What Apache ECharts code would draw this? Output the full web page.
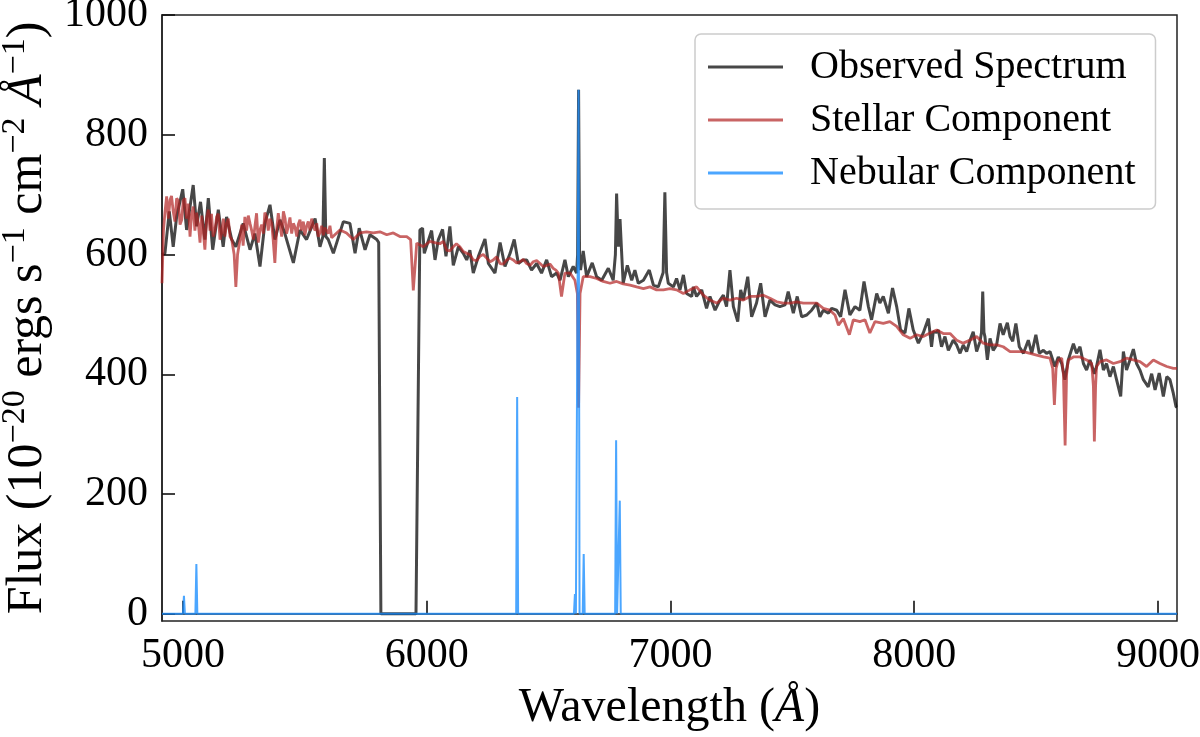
<!DOCTYPE html>
<html><head><meta charset="utf-8">
<script src="https://cdn.jsdelivr.net/npm/echarts@6/dist/echarts.min.js"></script>
<style>html,body{margin:0;padding:0;background:#fff}#c{width:1200px;height:737px}</style>
</head><body><div id="c"></div>
<script>
// Observed spectrum (wavelength in Angstrom, flux in 1e-20 erg/s/cm2/A)
const obsWave = [4914,4926,4944,4960,4974,4999,5015,5042,5056,5072,5090,5104,5122,5145,5165,5179,5200,5217,5247,5275,5295,5316,5336,5357,5377,5398,5418,5453,5480,5507,5542,5562,5574,5580,5586,5596,5617,5658,5685,5706,5723,5747,5767,5795,5803,5812,5956,5972,5983,5990,6020,6034,6047,6065,6079,6095,6109,6130,6150,6164,6177,6191,6212,6239,6253,6280,6301,6321,6342,6359,6376,6396,6410,6430,6451,6471,6492,6512,6533,6547,6567,6581,6601,6615,6619,6623,6627,6631,6642,6656,6679,6697,6718,6745,6765,6774,6779,6786,6793,6800,6806,6823,6841,6854,6868,6889,6913,6930,6950,6970,6977,6984,6991,7012,7025,7039,7053,7066,7087,7094,7107,7128,7148,7162,7183,7203,7217,7230,7244,7258,7276,7288,7299,7317,7333,7353,7370,7388,7408,7429,7449,7470,7483,7504,7520,7538,7559,7579,7600,7613,7627,7648,7661,7682,7698,7716,7736,7757,7777,7794,7812,7825,7846,7859,7873,7894,7911,7928,7944,7962,7978,7996,8017,8037,8058,8071,8078,8092,8099,8112,8126,8140,8160,8174,8188,8201,8215,8229,8242,8256,8270,8276,8281,8286,8290,8300,8311,8324,8338,8352,8365,8382,8393,8404,8417,8431,8448,8468,8482,8499,8513,8530,8543,8557,8577,8591,8605,8618,8632,8653,8666,8680,8694,8707,8721,8739,8748,8762,8776,8789,8803,8817,8830,8847,8858,8871,8885,8899,8912,8926,8940,8960,8974,8988,9005,9022,9036,9049,9063,9074,9078];
const obsFlux = [600,602,672,613,663,709,641,716,647,688,625,694,608,675,613,663,625,613,652,608,635,580,652,683,625,658,635,586,641,625,660,613,630,761,630,625,602,655,652,602,644,608,633,625,620,0,0,641,644,602,640,591,624,642,597,647,582,613,602,591,607,569,597,626,585,569,620,580,602,625,585,591,591,574,585,569,591,563,569,557,591,563,580,569,600,875,600,574,606,563,586,563,557,577,557,600,702,613,659,600,552,582,557,574,552,557,574,549,546,570,704,570,552,546,560,541,566,535,530,546,530,541,510,530,507,524,532,513,574,513,488,541,524,563,496,519,552,496,524,516,513,516,538,502,530,496,499,507,519,496,507,502,510,507,496,541,499,513,507,555,513,491,535,519,530,502,544,513,474,469,510,474,452,469,493,446,471,470,474,446,463,440,457,449,435,449,438,457,471,438,455,470,538,470,463,424,460,440,449,485,466,486,463,455,485,446,435,457,435,466,435,440,435,438,413,429,418,391,424,451,435,446,418,407,424,401,413,441,407,418,396,413,391,363,438,407,424,442,418,407,391,379,401,374,402,363,396,391,368,346,345];

// Stellar component
const stelWave = [4914,4920,4926,4933,4940,4947,4953,4960,4967,4974,4981,4988,4995,5001,5008,5015,5022,5029,5035,5042,5049,5056,5063,5070,5077,5083,5090,5097,5104,5111,5117,5124,5131,5138,5145,5152,5159,5166,5172,5179,5186,5193,5200,5210,5217,5224,5234,5241,5247,5254,5261,5268,5275,5282,5289,5296,5302,5309,5316,5323,5330,5336,5343,5350,5357,5364,5370,5377,5384,5391,5398,5405,5412,5419,5425,5432,5439,5446,5453,5460,5467,5473,5480,5487,5494,5500,5507,5514,5521,5528,5535,5542,5549,5555,5562,5569,5576,5582,5589,5596,5603,5610,5617,5644,5671,5699,5726,5753,5781,5808,5836,5863,5890,5918,5934,5945,5959,5986,6013,6041,6054,6068,6082,6095,6109,6122,6136,6150,6164,6177,6191,6205,6218,6232,6246,6260,6273,6287,6301,6314,6328,6341,6355,6369,6383,6396,6410,6424,6437,6451,6465,6478,6492,6506,6519,6530,6540,6553,6567,6588,6608,6618,6623,6629,6642,6670,6697,6724,6752,6779,6806,6834,6861,6889,6916,6943,6971,6998,7025,7053,7080,7107,7135,7162,7189,7217,7244,7271,7299,7326,7353,7381,7408,7436,7463,7490,7518,7545,7572,7600,7627,7654,7675,7689,7709,7734,7750,7777,7798,7818,7839,7873,7900,7928,7955,7983,8010,8037,8065,8092,8119,8147,8174,8201,8229,8256,8283,8311,8338,8365,8393,8420,8448,8475,8502,8530,8557,8568,8575,8582,8591,8605,8612,8619,8625,8632,8653,8680,8707,8728,8735,8739,8744,8748,8762,8789,8817,8844,8871,8899,8926,8953,8981,9008,9036,9063,9078];
const stelFlux = [552,640,670,697,660,691,698,672,655,694,690,650,658,690,694,660,685,630,665,680,640,670,652,620,665,640,608,660,675,640,668,630,640,663,668,625,636,660,630,652,660,630,625,600,546,600,625,650,615,663,640,665,652,640,625,650,669,620,641,650,635,670,663,640,660,652,625,586,640,669,650,630,672,660,635,647,662,635,652,645,630,650,658,640,655,632,647,655,640,660,647,640,652,630,636,648,632,645,647,635,648,628,630,641,636,625,636,638,636,638,633,636,630,630,625,540,619,613,622,619,618,622,607,606,613,618,613,605,602,600,591,590,597,600,594,588,591,596,585,584,591,594,591,586,588,592,585,582,588,590,585,580,582,584,577,574,569,530,569,569,557,535,344,535,563,563,560,555,552,555,551,549,546,543,546,541,541,543,541,535,541,546,532,524,519,527,524,527,524,530,530,532,527,521,519,519,521,519,519,519,510,507,499,482,493,466,491,488,491,469,488,485,488,480,466,460,466,463,469,474,468,468,457,452,457,463,452,449,449,446,438,438,438,435,432,429,427,410,349,410,424,427,400,281,400,424,429,429,424,418,380,288,380,413,421,424,418,421,427,424,421,413,424,418,413,410,410];

// Nebular component (emission lines)
const nebWave = [4914,5000,5004,5008,5051,5055,5059,6367,6371,6375,6604,6608,6612,6619,6623,6627,6640,6644,6648,6773,6777,6781,6788,6792,6796,9078];
const nebFlux = [0,0,30,0,0,83,0,0,362,0,0,33,0,0,875,0,0,100,0,0,290,0,0,189,0,0];

const xTicks = [5000,6000,7000,8000,9000];
const yTicks = [0,200,400,600,800,1000];

const pair = (w, f) => w.map((x, i) => [x, f[i]]).sort((a, b) => a[0] - b[0]);
const FONT = 'Liberation Serif';
const chart = echarts.init(document.getElementById('c'), null, {renderer: 'canvas'});
const tickStyle = {show: true, inside: true, length: 13, lineStyle: {color: '#111', width: 1.6}};
const labelStyle = {color: '#000', fontFamily: FONT, fontSize: 42, formatter: v => String(v)};
chart.setOption({
  animation: false,
  backgroundColor: '#fff',
  grid: {left: 162, right: 23, top: 15, bottom: 116, show: true, borderColor: '#222', borderWidth: 1.5,
    containLabel: false, outerBoundsMode: 'none'},
  legend: {
    left: 695, top: 34, orient: 'vertical', icon: 'rect', itemWidth: 75, itemHeight: 3, itemGap: 13,
    padding: [13, 20, 16, 13], borderColor: '#ccc', borderWidth: 1.5, borderRadius: 6,
    backgroundColor: 'rgba(255,255,255,0.85)',
    textStyle: {fontFamily: FONT, fontSize: 40, color: '#000', padding: [0, 0, 0, 22]},
    data: ['Observed Spectrum', 'Stellar Component', 'Nebular Component']
  },
  xAxis: {
    type: 'value', min: 4914, max: 9078, minInterval: 1000, maxInterval: 1000,
    axisLine: {show: true, lineStyle: {color: '#222', width: 1.5}},
    splitLine: {show: false},
    axisLabel: Object.assign({}, labelStyle, {margin: 14, customValues: xTicks}),
    axisTick: Object.assign({}, tickStyle, {customValues: xTicks}),
    name: '{b|Wavelength (}{i|Å}{b|)}', nameLocation: 'middle', nameGap: 63,
    nameTextStyle: {fontFamily: FONT, fontSize: 48, color: '#000',
      rich: {b: {fontFamily: FONT, fontSize: 48, color: '#000'}, i: {fontFamily: FONT, fontSize: 48, fontStyle: 'italic', color: '#000'}}}
  },
  yAxis: {
    type: 'value', min: -12, max: 1000, minInterval: 200, maxInterval: 200,
    axisLine: {show: true, lineStyle: {color: '#222', width: 1.5}},
    splitLine: {show: false},
    axisLabel: Object.assign({}, labelStyle, {margin: 14, customValues: yTicks}),
    axisTick: Object.assign({}, tickStyle, {customValues: yTicks}),
    name: '{b|Flux (10}{s|−20}{b| ergs s}{s|−1}{b| cm}{s|−2}{b| }{i|Å}{s|−1}{b|)}',
    nameLocation: 'middle', nameRotate: 90, nameGap: 96,
    nameTextStyle: {fontFamily: FONT, fontSize: 50, color: '#000',
      rich: {
        b: {fontFamily: FONT, fontSize: 50, lineHeight: 55, verticalAlign: 'bottom', color: '#000'},
        i: {fontFamily: FONT, fontSize: 50, lineHeight: 55, verticalAlign: 'bottom', fontStyle: 'italic', color: '#000'},
        s: {fontFamily: FONT, fontSize: 34, lineHeight: 30, verticalAlign: 'top', color: '#000'}
      }}
  },
  series: [
    {name: 'Observed Spectrum', type: 'line', data: pair(obsWave, obsFlux), symbol: 'none', showSymbol: false,
      lineStyle: {color: 'rgba(0,0,0,0.72)', width: 3}, itemStyle: {color: 'rgba(0,0,0,0.72)'}, z: 2},
    {name: 'Stellar Component', type: 'line', data: pair(stelWave, stelFlux), symbol: 'none', showSymbol: false,
      lineStyle: {color: 'rgba(178,34,34,0.7)', width: 2.8}, itemStyle: {color: 'rgba(178,34,34,0.7)'}, z: 3},
    {name: 'Nebular Component', type: 'line', data: pair(nebWave, nebFlux), symbol: 'none', showSymbol: false,
      lineStyle: {color: 'rgba(30,144,255,0.8)', width: 2}, itemStyle: {color: 'rgba(30,144,255,0.8)'}, z: 4}
  ]
});
</script></body></html>
